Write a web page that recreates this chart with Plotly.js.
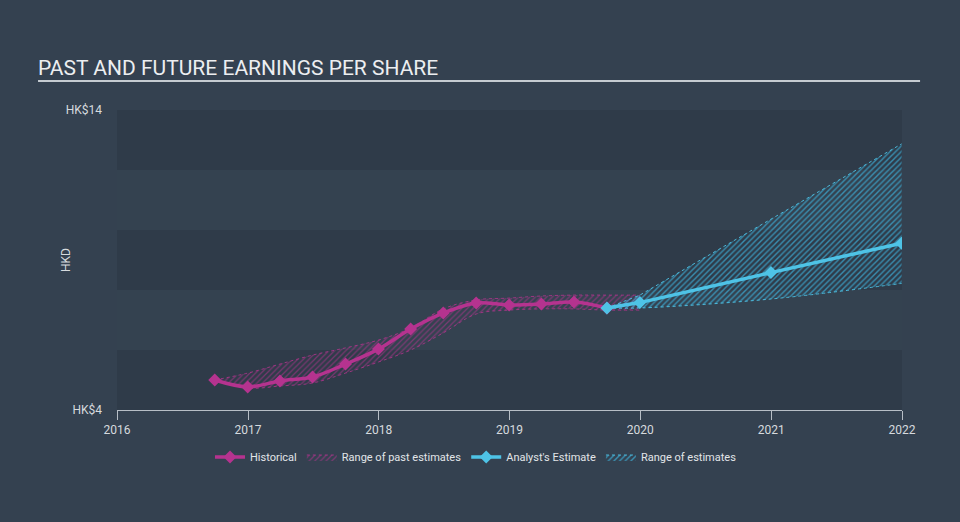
<!DOCTYPE html>
<html>
<head>
<meta charset="utf-8">
<script src="https://cdn.plot.ly/plotly-3.0.1.min.js"></script>
<style>
html,body{margin:0;padding:0;background:#344150;}
#chart{width:960px;height:522px;}
</style>
</head>
<body>
<div id="chart"></div>
<script>
// ---- data ----
var histDates = ['2016-09-30','2016-12-31','2017-03-31','2017-06-30','2017-09-30','2017-12-31','2018-03-31','2018-06-30','2018-09-30','2018-12-31','2019-03-31','2019-06-30','2019-09-30'];
var histEps = [5.0, 4.77, 4.97, 5.1, 5.53, 6.03, 6.7, 7.23, 7.57, 7.5, 7.53, 7.6, 7.4];

var pastRangeDates = ['2016-09-30','2016-12-31','2017-03-31','2017-06-30','2017-09-30','2017-12-31','2018-03-31','2018-06-30','2018-09-30','2018-12-31','2019-03-31','2019-06-30','2019-09-30','2019-12-31'];
var pastLow  = [5.0, 4.73, 4.8, 4.9, 5.23, 5.6, 6.0, 6.57, 7.2, 7.33, 7.37, 7.37, 7.33, 7.33];
var pastHigh = [5.0, 5.23, 5.53, 5.83, 6.07, 6.33, 6.73, 7.37, 7.67, 7.73, 7.8, 7.83, 7.83, 7.83];

var estDates = ['2019-09-30','2019-12-31','2020-12-31','2021-12-31'];
var estEps  = [7.4, 7.58, 8.58, 9.56];
var estLow  = [7.4, 7.4, 7.7, 8.22];
var estHigh = [7.4, 7.83, 10.36, 12.87];

var yearTicks = ['2016-01-01','2017-01-01','2018-01-01','2019-01-01','2020-01-01','2021-01-01','2022-01-01'];
var yearLabels = ['2016','2017','2018','2019','2020','2021','2022'];
var yTickVals = [4, 14];
var yTickText = ['HK$4', 'HK$14'];
var bandEdges = [4, 6, 8, 10, 12, 14];

// ---- styles ----
var pink = '#b5338f';
var blue = '#4ec3e6';
var font = 'Roboto, "Open Sans", sans-serif';

var traces = [
  {x: pastRangeDates, y: pastLow, type: 'scatter', mode: 'lines', showlegend: false, hoverinfo: 'skip',
   line: {color: 'rgba(181,51,143,0.8)', width: 1, dash: 'dot', shape: 'spline'}},
  {x: pastRangeDates, y: pastHigh, type: 'scatter', mode: 'lines', name: 'Range of past estimates', legendrank: 2,
   fill: 'tonexty', fillcolor: 'rgba(181,51,143,0.12)',
   fillpattern: {shape: '/', fgcolor: 'rgba(181,51,143,0.55)', bgcolor: 'rgba(0,0,0,0)', size: 4, solidity: 0.3},
   line: {color: 'rgba(181,51,143,0.8)', width: 1, dash: 'dot', shape: 'spline'}},
  {x: estDates, y: estLow, type: 'scatter', mode: 'lines', showlegend: false, hoverinfo: 'skip',
   line: {color: 'rgba(78,195,230,0.9)', width: 1, dash: 'dot', shape: 'spline'}},
  {x: estDates, y: estHigh, type: 'scatter', mode: 'lines', name: 'Range of estimates', legendrank: 4,
   fill: 'tonexty', fillcolor: 'rgba(40,140,180,0.25)',
   fillpattern: {shape: '/', fgcolor: 'rgba(60,170,210,0.75)', bgcolor: 'rgba(0,0,0,0)', size: 4, solidity: 0.35},
   line: {color: 'rgba(78,195,230,0.9)', width: 1, dash: 'dot'}},
  {x: histDates, y: histEps, type: 'scatter', mode: 'lines+markers', name: 'Historical', legendrank: 1,
   line: {color: pink, width: 3.5, shape: 'spline'},
   marker: {symbol: 'diamond', size: 10, color: pink}},
  {x: estDates, y: estEps, type: 'scatter', mode: 'lines+markers', name: "Analyst's Estimate", legendrank: 3,
   line: {color: blue, width: 3.5},
   marker: {symbol: 'diamond', size: 10, color: blue}}
];

var shapes = [];
for (var i = 0; i < bandEdges.length - 1; i++) {
  shapes.push({type: 'rect', xref: 'paper', yref: 'y', x0: 0, x1: 1, y0: bandEdges[i], y1: bandEdges[i + 1],
    layer: 'below', line: {width: 0}, fillcolor: (i % 2 === 0) ? '#2f3b49' : '#344250'});
}
shapes.push({type: 'line', xref: 'paper', yref: 'paper', x0: -0.1006, x1: 1.023, y0: 1.097, y1: 1.097,
  line: {color: '#c5cbd1', width: 2}});

var layout = {
  width: 960, height: 522,
  paper_bgcolor: '#344150', plot_bgcolor: '#344150',
  margin: {l: 117, r: 58, t: 110, b: 112},
  font: {family: font, color: '#d2d6da', size: 12},
  title: {text: 'PAST AND FUTURE EARNINGS PER SHARE', font: {family: font, size: 21, color: '#eceef0'},
    x: 38 / 960, xref: 'container', xanchor: 'left', y: 1 - 68 / 522, yref: 'container', yanchor: 'middle'},
  xaxis: {type: 'date', range: ['2016-01-01', '2022-01-01'], tickvals: yearTicks, ticktext: yearLabels,
    ticks: 'outside', ticklen: 9, tickcolor: '#b7bec6', tickwidth: 1, showline: true, linecolor: '#b7bec6', linewidth: 1,
    showgrid: false, zeroline: false, tickfont: {size: 12, color: '#d6dade'}},
  yaxis: {range: [4, 14], tickvals: yTickVals, ticktext: yTickText, showgrid: false, zeroline: false, showline: false,
    ticks: '', ticklabelstandoff: 14, tickfont: {size: 12, color: '#d6dade'}},
  annotations: [{text: 'HKD', xref: 'paper', yref: 'paper', x: (66 - 117) / 785, y: (410 - 260) / 300,
    showarrow: false, textangle: -90, font: {size: 12, color: '#d6dade'}, xanchor: 'center', yanchor: 'middle'}],
  shapes: shapes,
  showlegend: true,
  legend: {orientation: 'h', x: (476 - 117) / 785, xanchor: 'center', y: (410 - 457) / 300, yanchor: 'middle',
    font: {size: 11, color: '#e2e5e8'}, bgcolor: 'rgba(0,0,0,0)', traceorder: 'normal', itemwidth: 30}
};

Plotly.newPlot('chart', traces, layout, {displayModeBar: false, staticPlot: true});
</script>
</body>
</html>
